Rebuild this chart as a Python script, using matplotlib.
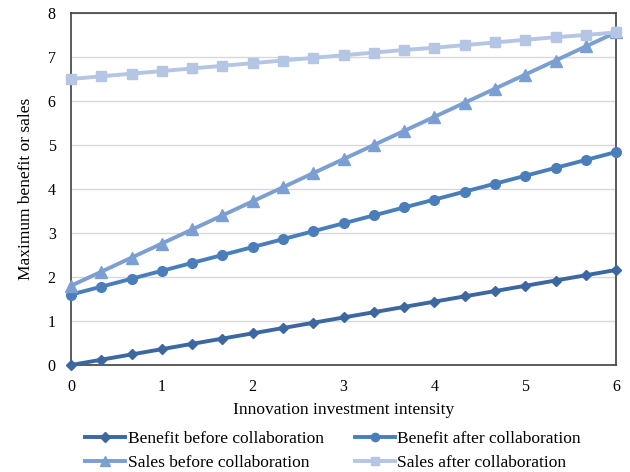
import matplotlib
matplotlib.use("Agg")
import matplotlib.pyplot as plt

plt.rcParams['font.family'] = ['Liberation Serif', 'DejaVu Serif']

# Innovation investment intensity (steps of 1/3 from 0 to 6)
intensity = [i / 3 for i in range(19)]

benefit_before = [0.00, 0.12, 0.24, 0.36, 0.48, 0.60, 0.72, 0.84, 0.96, 1.08,
                  1.20, 1.32, 1.44, 1.56, 1.68, 1.80, 1.92, 2.04, 2.16]
benefit_after = [1.60, 1.78, 1.96, 2.14, 2.32, 2.50, 2.68, 2.86, 3.04, 3.22,
                 3.40, 3.58, 3.76, 3.94, 4.12, 4.30, 4.48, 4.66, 4.84]
sales_before = [1.80, 2.12, 2.44, 2.76, 3.08, 3.40, 3.72, 4.04, 4.36, 4.68,
                5.00, 5.32, 5.64, 5.96, 6.28, 6.60, 6.92, 7.24, 7.56]
sales_after = [6.50, 6.56, 6.62, 6.68, 6.74, 6.80, 6.86, 6.92, 6.98, 7.04,
               7.10, 7.16, 7.21, 7.27, 7.33, 7.39, 7.45, 7.50, 7.56]

series = [
    ("Benefit before collaboration", benefit_before, "#3C67A0", "D", 5.5),
    ("Benefit after collaboration", benefit_after, "#4A7EBB", "o", 7),
    ("Sales before collaboration", sales_before, "#7B9FD2", "^", 8),
    ("Sales after collaboration", sales_after, "#B4C6E4", "s", 7),
]

fig = plt.figure(figsize=(6.3, 4.72), dpi=100)
ax = fig.add_axes([0.1127, 0.2267, 0.8653, 0.7458])

handles = []
for label, values, color, marker, ms in series:
    h, = ax.plot(intensity, values, color=color, marker=marker, markersize=ms,
                 linewidth=2.8, label=label, clip_on=False, zorder=3)
    handles.append(h)

ax.set_xlim(0, 6)
ax.set_ylim(0, 8)
ax.set_xticks(range(7))
ax.set_yticks(range(9))
ax.yaxis.grid(True, color="#D9D9D9", linewidth=1)
ax.set_axisbelow(True)
ax.tick_params(axis="x", length=0, labelsize=11.5, pad=10)
ax.tick_params(axis="y", length=0, labelsize=11.5, pad=11)
for side in ax.spines.values():
    side.set_color("#404040")
    side.set_linewidth(1.2)

ax.set_xlabel("Innovation investment intensity", fontsize=12.5, labelpad=5)
ax.set_ylabel("Maximum benefit or sales", fontsize=12.5, labelpad=10)

# legend filled column-wise: benefit pair on top row, sales pair on bottom row
order = [handles[0], handles[2], handles[1], handles[3]]
fig.legend(order, [h.get_label() for h in order], ncol=2, loc="upper left",
           bbox_to_anchor=(85 / 630, 1 - 431 / 472), frameon=False,
           fontsize=12.5, borderpad=0, borderaxespad=0,
           handlelength=2.3, handletextpad=0.15, columnspacing=1.8,
           labelspacing=0.42, markerscale=0.85)

fig.savefig("out.png", dpi=100)
